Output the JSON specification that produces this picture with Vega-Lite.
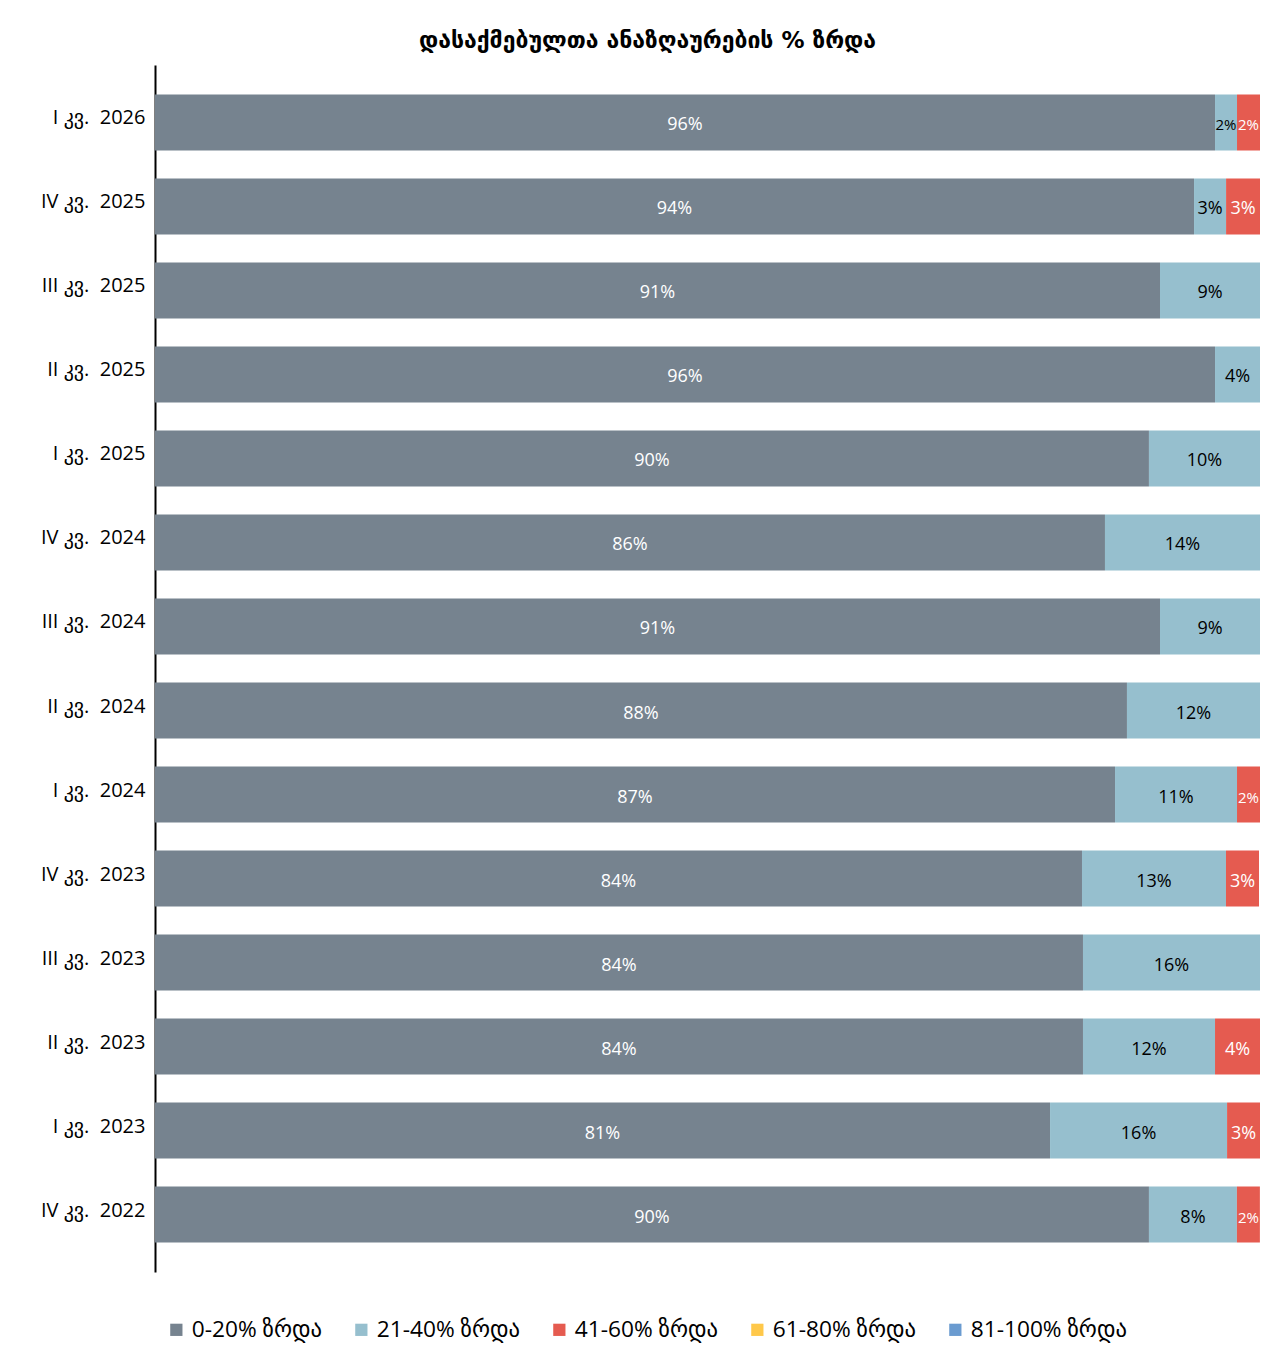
{
  "$schema": "https://vega.github.io/schema/vega-lite/v6.json",
  "width": 1105,
  "height": 1207,
  "autosize": "none",
  "padding": {"left": 155, "top": 65, "right": 28, "bottom": 88},
  "background": "white",
  "config": {"view": {"stroke": null}, "font": "Open Sans, DejaVu Sans"},
  "title": {"text": "დასაქმებულთა ანაზღაურების % ზრდა", "fontSize": 23, "fontWeight": "bold", "font": "DejaVu Sans", "color": "black", "dx": -60, "offset": 12},
  "data": {"values": [
    {"q": "I კვ.\u00a0 2026", "c": "0-20% ზრდა", "k": 1, "v": 0.9593},
    {"q": "I კვ.\u00a0 2026", "c": "21-40% ზრდა", "k": 2, "v": 0.0199},
    {"q": "I კვ.\u00a0 2026", "c": "41-60% ზრდა", "k": 3, "v": 0.0208},
    {"q": "IV კვ.\u00a0 2025", "c": "0-20% ზრდა", "k": 1, "v": 0.9403},
    {"q": "IV კვ.\u00a0 2025", "c": "21-40% ზრდა", "k": 2, "v": 0.029},
    {"q": "IV კვ.\u00a0 2025", "c": "41-60% ზრდა", "k": 3, "v": 0.0307},
    {"q": "III კვ.\u00a0 2025", "c": "0-20% ზრდა", "k": 1, "v": 0.9095},
    {"q": "III კვ.\u00a0 2025", "c": "21-40% ზრდა", "k": 2, "v": 0.0905},
    {"q": "II კვ.\u00a0 2025", "c": "0-20% ზრდა", "k": 1, "v": 0.9593},
    {"q": "II კვ.\u00a0 2025", "c": "21-40% ზრდა", "k": 2, "v": 0.0407},
    {"q": "I კვ.\u00a0 2025", "c": "0-20% ზრდა", "k": 1, "v": 0.8995},
    {"q": "I კვ.\u00a0 2025", "c": "21-40% ზრდა", "k": 2, "v": 0.1005},
    {"q": "IV კვ.\u00a0 2024", "c": "0-20% ზრდა", "k": 1, "v": 0.8597},
    {"q": "IV კვ.\u00a0 2024", "c": "21-40% ზრდა", "k": 2, "v": 0.1403},
    {"q": "III კვ.\u00a0 2024", "c": "0-20% ზრდა", "k": 1, "v": 0.9095},
    {"q": "III კვ.\u00a0 2024", "c": "21-40% ზრდა", "k": 2, "v": 0.0905},
    {"q": "II კვ.\u00a0 2024", "c": "0-20% ზრდა", "k": 1, "v": 0.8796},
    {"q": "II კვ.\u00a0 2024", "c": "21-40% ზრდა", "k": 2, "v": 0.1204},
    {"q": "I კვ.\u00a0 2024", "c": "0-20% ზრდა", "k": 1, "v": 0.8688},
    {"q": "I კვ.\u00a0 2024", "c": "21-40% ზრდა", "k": 2, "v": 0.1104},
    {"q": "I კვ.\u00a0 2024", "c": "41-60% ზრდა", "k": 3, "v": 0.0208},
    {"q": "IV კვ.\u00a0 2023", "c": "0-20% ზრდა", "k": 1, "v": 0.8389},
    {"q": "IV კვ.\u00a0 2023", "c": "21-40% ზრდა", "k": 2, "v": 0.1303},
    {"q": "IV კვ.\u00a0 2023", "c": "41-60% ზრდა", "k": 3, "v": 0.0299},
    {"q": "III კვ.\u00a0 2023", "c": "0-20% ზრდა", "k": 1, "v": 0.8398},
    {"q": "III კვ.\u00a0 2023", "c": "21-40% ზრდა", "k": 2, "v": 0.1602},
    {"q": "II კვ.\u00a0 2023", "c": "0-20% ზრდა", "k": 1, "v": 0.8398},
    {"q": "II კვ.\u00a0 2023", "c": "21-40% ზრდა", "k": 2, "v": 0.1195},
    {"q": "II კვ.\u00a0 2023", "c": "41-60% ზრდა", "k": 3, "v": 0.0407},
    {"q": "I კვ.\u00a0 2023", "c": "0-20% ზრდა", "k": 1, "v": 0.81},
    {"q": "I კვ.\u00a0 2023", "c": "21-40% ზრდა", "k": 2, "v": 0.1602},
    {"q": "I კვ.\u00a0 2023", "c": "41-60% ზრდა", "k": 3, "v": 0.0298},
    {"q": "IV კვ.\u00a0 2022", "c": "0-20% ზრდა", "k": 1, "v": 0.8995},
    {"q": "IV კვ.\u00a0 2022", "c": "21-40% ზრდა", "k": 2, "v": 0.0796},
    {"q": "IV კვ.\u00a0 2022", "c": "41-60% ზრდა", "k": 3, "v": 0.0208}
  ]},
  "transform": [
    {"stack": "v", "groupby": ["q"], "sort": [{"field": "k"}], "as": ["v0", "v1"]},
    {"calculate": "(datum.v0 + datum.v1) / 2", "as": "mid"}
  ],
  "encoding": {
    "y": {
      "field": "q", "type": "nominal",
      "sort": ["I კვ.\u00a0 2026", "IV კვ.\u00a0 2025", "III კვ.\u00a0 2025", "II კვ.\u00a0 2025", "I კვ.\u00a0 2025", "IV კვ.\u00a0 2024", "III კვ.\u00a0 2024", "II კვ.\u00a0 2024", "I კვ.\u00a0 2024", "IV კვ.\u00a0 2023", "III კვ.\u00a0 2023", "II კვ.\u00a0 2023", "I კვ.\u00a0 2023", "IV კვ.\u00a0 2022"],
      "scale": {"paddingInner": 0.333, "paddingOuter": 0.351},
      "axis": {"title": null, "domain": true, "domainColor": "black", "domainWidth": 2, "ticks": false, "grid": false, "labelFontSize": 20, "labelColor": "black", "labelPadding": 10, "labelFont": "Open Sans, DejaVu Sans", "labelBaseline": "bottom", "labelOffset": 6}
    }
  },
  "layer": [
    {
      "mark": {"type": "bar"},
      "encoding": {
        "x": {"field": "v0", "type": "quantitative", "scale": {"domain": [0, 1], "nice": false}, "axis": null},
        "x2": {"field": "v1"},
        "color": {
          "field": "c", "type": "nominal",
          "scale": {"domain": ["0-20% ზრდა", "21-40% ზრდა", "41-60% ზრდა", "61-80% ზრდა", "81-100% ზრდა"], "range": ["#76838F", "#96BFCE", "#E55B50", "#FFC84A", "#6A9BD0"]},
          "legend": {"orient": "none", "legendX": 10, "legendY": 1253, "direction": "horizontal", "columns": 5, "columnPadding": 27, "title": null, "symbolType": "square", "symbolSize": 150, "symbolStrokeWidth": 0, "labelFontSize": 22.7, "labelFont": "Open Sans, DejaVu Sans", "labelColor": "black", "labelLimit": 400, "labelOffset": 4}
        }
      }
    },
    {
      "mark": {"type": "text", "font": "Open Sans, DejaVu Sans", "baseline": "middle", "align": "center", "dy": 3},
      "encoding": {
        "x": {"field": "mid", "type": "quantitative"},
        "text": {"field": "v", "type": "quantitative", "format": ".0%"},
        "color": {"condition": {"test": "datum.k == 2", "value": "black"}, "value": "white"},
        "size": {"condition": {"test": "datum.v < 0.025", "value": 15}, "value": 18}
      }
    }
  ]
}
